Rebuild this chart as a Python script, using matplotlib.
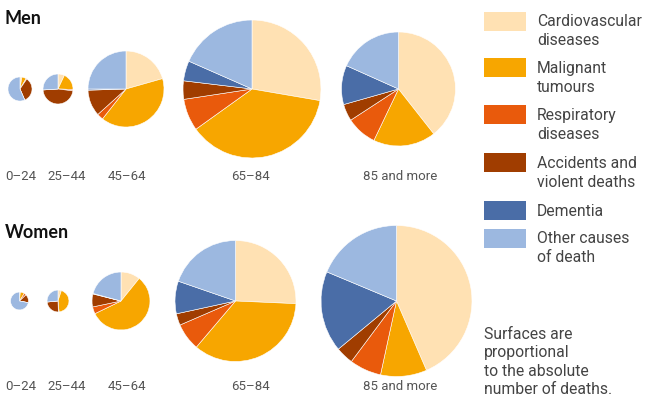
import numpy as np
import matplotlib.pyplot as plt

plt.rcParams['font.family'] = ['Roboto', 'DejaVu Sans']

causes = ['Cardiovascular\ndiseases', 'Malignant\ntumours', 'Respiratory\ndiseases',
          'Accidents and\nviolent deaths', 'Dementia', 'Other causes\nof death']
colors = ['#FFE1B3', '#F7A600', '#E95A0C', '#A03D00', '#4A6DA7', '#9CB8E0']

ages = ['0\u201324', '25\u201344', '45\u201364', '65\u201384', '85 and more']

# total deaths per age group
men_total = [290, 450, 2890, 9520, 6500]
women_total = [160, 240, 1680, 7320, 11400]

# shares in % (cardio, malignant, respiratory, accidents, dementia, other)
men_share = [
    [2.5, 6.0, 1.0, 34.0, 0.0, 56.5],
    [7.0, 18.5, 1.5, 47.0, 0.0, 26.0],
    [20.6, 40.0, 2.7, 11.2, 0.5, 25.0],
    [27.7, 37.4, 7.5, 4.3, 4.7, 18.4],
    [39.4, 17.7, 8.7, 4.8, 11.1, 18.3],
]
women_share = [
    [1.5, 7.5, 4.0, 15.0, 0.0, 72.0],
    [5.0, 43.5, 1.0, 24.0, 0.0, 26.5],
    [10.8, 57.0, 3.9, 7.2, 0.3, 20.8],
    [25.7, 35.5, 7.3, 3.1, 8.7, 19.7],
    [43.5, 9.9, 6.8, 3.8, 17.3, 18.7],
]

W, H = 646, 398
fig = plt.figure(figsize=(W / 100, H / 100), dpi=100)
ax = fig.add_axes([0, 0, 1, 1])

k = 0.707  # px radius per sqrt(death)
men_x = [20, 58, 126, 252, 398.5]
women_x = [19.5, 58, 121, 235.5, 396.5]
label_x = [21, 67, 127, 250, 400]

for row, (totals, shares, xs, cy, ly) in enumerate([
        (men_total, men_share, men_x, 89, 176),
        (women_total, women_share, women_x, 301, 386)]):
    for i in range(len(ages)):
        r = k * np.sqrt(totals[i])
        ax.pie(shares[i], colors=colors, startangle=90, counterclock=False,
               center=(xs[i], H - cy), radius=r, frame=True,
               wedgeprops=dict(linewidth=0.4, edgecolor='white'))
        ax.text(label_x[i], H - ly, ages[i], ha='center', va='center',
                fontsize=9.5, color='#555555')

ax.text(5, H - 18, 'Men', fontsize=13, fontweight='bold', color='#111111',
        family=['Lato', 'DejaVu Sans'], va='center')
ax.text(5, H - 232, 'Women', fontsize=13, fontweight='bold', color='#111111',
        family=['Lato', 'DejaVu Sans'], va='center')

# legend
leg_y = [21, 67, 114, 162, 210, 238]
txt_y = [31, 78, 125, 173, 211, 248]
for i in range(len(causes)):
    ax.add_patch(plt.Rectangle((484, H - leg_y[i] - 9.5), 42, 19, color=colors[i], lw=0))
    ax.text(537, H - txt_y[i], causes[i], fontsize=11.3, color='#444444',
            va='center', linespacing=1.36)

ax.text(484, H - 362, 'Surfaces are\nproportional\nto the absolute\nnumber of deaths.',
        fontsize=11.3, color='#444444', va='center', linespacing=1.27)

ax.set_xlim(0, W)
ax.set_ylim(0, H)
ax.set_aspect('equal')
ax.axis('off')
fig.savefig('out.png', dpi=100)
